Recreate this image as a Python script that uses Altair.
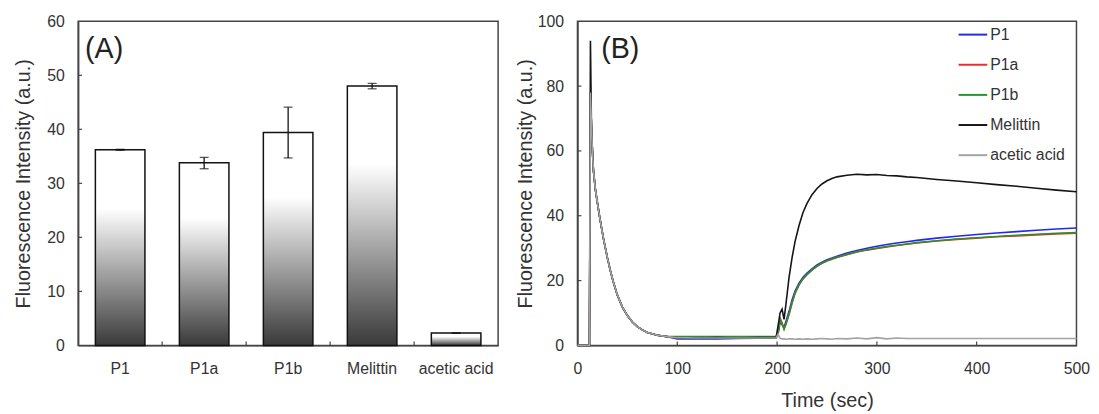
import altair as alt
import pandas as pd

# ---------------- Panel A data ----------------
CATEGORIES = ["P1", "P1a", "P1b", "Melittin", "acetic acid"]
BAR_MEANS = [36.2, 33.8, 39.4, 48.0, 2.3]
ERR_LOW = [36.1, 32.7, 34.7, 47.5, 2.25]
ERR_HIGH = [36.3, 34.8, 44.1, 48.5, 2.35]
A_Y_LABELS = [0, 10, 20, 30, 40, 50, 60]
A_Y_TICKS = [10, 20, 30, 40, 50]
A_X_TICK_CATS = ["P1a", "P1b", "Melittin", "acetic acid"]

# ---------------- Panel B data ----------------
SERIES = ["P1", "P1a", "P1b", "Melittin", "acetic acid"]
COLORS = ["#2626f2", "#ee2a2a", "#23952a", "#151515", "#a3a3a3"]

T_EARLY = [0, 11, 12, 13, 14, 15, 16, 18, 20, 22, 24, 26, 28, 30, 33, 36, 40, 45,
           50, 55, 60, 65, 70, 80, 90]
DECAY = [0, 0, 0, 78, 68, 60, 54, 48, 44, 40, 36.5, 33, 30, 27, 23, 19.5, 15.5, 11.8,
         9.2, 7.2, 5.8, 4.8, 4.0, 3.1, 2.7]
MEL_DECAY = [0, 0, 0, 94, 68, 60, 54, 48, 44, 40, 36.5, 33, 30, 27, 23, 19.5, 15.5, 11.8,
             9.2, 7.2, 5.8, 4.8, 4.0, 3.1, 2.7]

T_LATE = [100, 120, 140, 160, 180,
          199, 201, 203, 205, 207, 209,
          212, 215, 218, 222, 226, 230,
          235, 240, 245, 250, 255, 260,
          270, 280, 290, 300, 310, 320, 330, 340,
          360, 380, 400, 420, 440, 460, 480, 500]
P1_LATE = [2.0, 2.0, 2.0, 2.1, 2.2,
           2.2, 3.5, 7.0, 6.5, 5.5, 7.5,
           10.5, 14.0, 16.8, 19.2, 21.0, 22.3,
           23.6, 24.8, 25.7, 26.4, 27.0, 27.5,
           28.5, 29.3, 30.0, 30.6, 31.1, 31.6, 32.0, 32.4,
           33.1, 33.7, 34.2, 34.7, 35.1, 35.5, 35.9, 36.2]
P1A_LATE = [2.3, 2.3, 2.2, 2.3, 2.3,
            2.4, 4.0, 8.5, 7.0, 5.0, 6.5,
            9.5, 13.0, 16.0, 18.6, 20.5, 21.8,
            23.2, 24.4, 25.3, 26.0, 26.6, 27.1,
            28.0, 28.8, 29.4, 29.9, 30.4, 30.8, 31.2, 31.6,
            32.2, 32.7, 33.1, 33.5, 33.8, 34.1, 34.4, 34.6]
P1B_LATE = [2.7, 2.7, 2.7, 2.7, 2.7,
            2.7, 4.0, 8.0, 6.5, 5.0, 6.8,
            9.8, 13.2, 16.2, 18.8, 20.6, 21.9,
            23.3, 24.5, 25.4, 26.1, 26.7, 27.2,
            28.1, 28.9, 29.5, 30.0, 30.5, 30.9, 31.3, 31.7,
            32.3, 32.8, 33.2, 33.6, 34.0, 34.3, 34.6, 34.8]
MEL_LATE = [2.4, 2.3, 2.4, 2.3, 2.4,
            2.4, 6.0, 10.0, 11.2, 8.0, 13.0,
            21.0, 27.0, 32.0, 37.0, 41.0, 43.8,
            46.5, 48.4, 49.8, 50.8, 51.5, 52.0,
            52.5, 52.8, 52.6, 52.7, 52.4, 52.3, 52.0, 51.8,
            51.2, 50.7, 50.2, 49.6, 49.1, 48.5, 47.9, 47.4]
ACE_LATE = [2.4, 2.3, 2.3, 2.3, 2.3,
            2.3, 3.5, 2.2, 2.0, 2.0, 1.9,
            2.0, 2.0, 1.9, 2.0, 1.9, 2.0,
            1.9, 2.0, 2.1, 2.0, 1.9, 2.1,
            2.0, 2.3, 2.0, 2.4, 2.0, 2.3, 2.1, 2.1,
            2.1, 2.1, 2.1, 2.1, 2.1, 2.1, 2.1, 2.1]

B_X_LABELS = [0, 100, 200, 300, 400, 500]
B_Y_LABELS = [0, 20, 40, 60, 80, 100]
B_X_TICKS = [100, 200, 300, 400]
B_Y_TICKS = [20, 40, 60, 80]

FONT = "Liberation Sans"
TXT = "#333333"
FRAME = "#444444"
H = 328
WA = 425
WB = 505

# ---------------- Panel A ----------------
bars_df = pd.DataFrame({"cat": CATEGORIES, "mean": BAR_MEANS, "lo": ERR_LOW, "hi": ERR_HIGH})

xA_axis = alt.Axis(title=None, labelAngle=0, ticks=False, labelPadding=15, values=CATEGORIES)
yA_axis = alt.Axis(title="Fluorescence Intensity (a.u.)", values=A_Y_LABELS, ticks=False,
                   labelPadding=14, titlePadding=13.2, labelFlush=False)
xA_scale = alt.Scale(domain=CATEGORIES, paddingInner=0.41, paddingOuter=0.205)
yA_scale = alt.Scale(domain=[0, 60], nice=False)

grad = {
    "gradient": "linear", "x1": 0, "y1": 0, "x2": 0, "y2": 1,
    "stops": [
        {"offset": 0.0, "color": "#ffffff"},
        {"offset": 0.3, "color": "#ffffff"},
        {"offset": 1.0, "color": "#3a3a3a"},
    ],
}

bars = alt.Chart(bars_df).mark_bar(fill=grad, stroke="#111111", strokeWidth=1.5).encode(
    x=alt.X("cat:N", scale=xA_scale, axis=xA_axis, sort=CATEGORIES),
    y=alt.Y("mean:Q", scale=yA_scale, axis=yA_axis),
)
err_rule = alt.Chart(bars_df).mark_rule(color="#111111", strokeWidth=1.3).encode(
    x=alt.X("cat:N", scale=xA_scale, axis=xA_axis, sort=CATEGORIES),
    y=alt.Y("lo:Q", scale=yA_scale, axis=yA_axis),
    y2="hi:Q",
)
cap_lo = alt.Chart(bars_df).mark_tick(color="#111111", thickness=1.3, size=9).encode(
    x=alt.X("cat:N", scale=xA_scale, axis=xA_axis, sort=CATEGORIES),
    y=alt.Y("lo:Q", scale=yA_scale, axis=yA_axis),
)
cap_hi = alt.Chart(bars_df).mark_tick(color="#111111", thickness=1.3, size=9).encode(
    x=alt.X("cat:N", scale=xA_scale, axis=xA_axis, sort=CATEGORIES),
    y=alt.Y("hi:Q", scale=yA_scale, axis=yA_axis),
)
a_yticks = alt.Chart(pd.DataFrame({"mean": A_Y_TICKS})).mark_rule(color=FRAME, strokeWidth=1.2).encode(
    y=alt.Y("mean:Q", scale=yA_scale, axis=yA_axis),
    x=alt.value(0), x2=alt.value(4),
)
a_xticks = alt.Chart(pd.DataFrame({"cat": A_X_TICK_CATS})).mark_rule(
    color=FRAME, strokeWidth=1.2, xOffset=-42.5).encode(
    x=alt.X("cat:N", scale=xA_scale, axis=xA_axis, sort=CATEGORIES),
    y=alt.value(H), y2=alt.value(H - 4),
)
a_label = alt.Chart(pd.DataFrame({"lab": ["(A)"]})).mark_text(
    align="left", baseline="middle", fontSize=29, font=FONT, color="#222222").encode(
    x=alt.value(7), y=alt.value(28), text="lab:N")

panel_a = alt.layer(bars, err_rule, cap_lo, cap_hi, a_yticks, a_xticks, a_label).properties(
    width=WA, height=H)

# ---------------- Panel B ----------------
late = {"P1": P1_LATE, "P1a": P1A_LATE, "P1b": P1B_LATE, "Melittin": MEL_LATE, "acetic acid": ACE_LATE}
early = {"P1": DECAY, "P1a": DECAY, "P1b": DECAY, "Melittin": MEL_DECAY, "acetic acid": DECAY}
rows = []
for s in SERIES:
    for t, v in zip(T_EARLY + T_LATE, early[s] + late[s]):
        rows.append({"series": s, "t": t, "v": v})
lines_df = pd.DataFrame(rows)

xB_scale = alt.Scale(domain=[0, 500], nice=False)
yB_scale = alt.Scale(domain=[0, 100], nice=False)
xB_axis = alt.Axis(title="Time (sec)", values=B_X_LABELS, ticks=False, labelPadding=15,
                   titlePadding=15, labelFlush=False)
yB_axis = alt.Axis(title="Fluorescence Intensity (a.u.)", values=B_Y_LABELS, ticks=False,
                   labelPadding=14, titlePadding=2, labelFlush=False)
legend = alt.Legend(title=None, orient="none", legendX=890, legendY=-2, symbolType="stroke",
                    symbolSize=841, symbolStrokeWidth=2, labelFontSize=16, labelFont=FONT,
                    labelColor=TXT, labelOffset=2, rowPadding=6.5, padding=0)
color = alt.Color("series:N", scale=alt.Scale(domain=SERIES, range=COLORS), legend=legend)

line_layers = []
for s in SERIES:
    line_layers.append(
        alt.Chart(lines_df).transform_filter(alt.datum.series == s).mark_line(strokeWidth=1.6).encode(
            x=alt.X("t:Q", scale=xB_scale, axis=xB_axis),
            y=alt.Y("v:Q", scale=yB_scale, axis=yB_axis),
            color=color,
        )
    )
b_yticks = alt.Chart(pd.DataFrame({"v": B_Y_TICKS})).mark_rule(color=FRAME, strokeWidth=1.2).encode(
    y=alt.Y("v:Q", scale=yB_scale, axis=yB_axis),
    x=alt.value(0), x2=alt.value(4),
)
b_xticks = alt.Chart(pd.DataFrame({"t": B_X_TICKS})).mark_rule(color=FRAME, strokeWidth=1.2).encode(
    x=alt.X("t:Q", scale=xB_scale, axis=xB_axis),
    y=alt.value(H), y2=alt.value(H - 4),
)
b_label = alt.Chart(pd.DataFrame({"lab": ["(B)"]})).mark_text(
    align="left", baseline="middle", fontSize=29, font=FONT, color="#222222").encode(
    x=alt.value(24), y=alt.value(28), text="lab:N")

panel_b = alt.layer(*line_layers, b_yticks, b_xticks, b_label).properties(width=WB, height=H)

chart = alt.hconcat(panel_a, panel_b, spacing=15.3).properties(
    padding={"left": 5, "top": 2, "right": 0, "bottom": 0}
).configure_view(
    stroke=FRAME, strokeWidth=1.5
).configure_axis(
    grid=False, domainColor=FRAME, domainWidth=1.5,
    labelFont=FONT, labelFontSize=16, labelColor=TXT,
    titleFont=FONT, titleFontSize=20, titleFontWeight="normal", titleColor=TXT,
).configure_legend(
    labelFont=FONT
)

chart.save("out.html", embed_options={"renderer": "svg", "actions": False})
